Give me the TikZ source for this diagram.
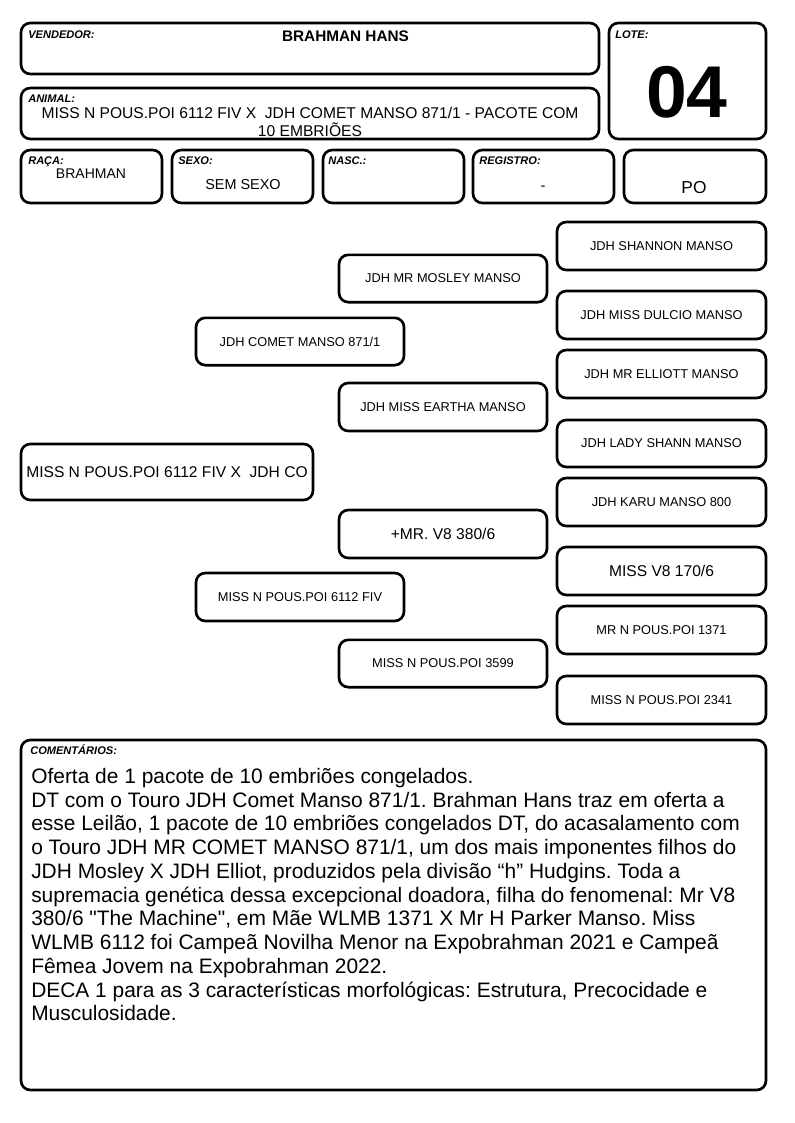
\documentclass[tikz,border=0pt]{standalone}
\usepackage{fontspec}
\setmainfont{Liberation Sans}[Ligatures=TeXOff]
\begin{document}
\frenchspacing
\begin{tikzpicture}[x=0.75pt,y=-0.75pt,
    box/.style={draw, line width=2pt, rounded corners=7pt, inner sep=0pt},
    tag/.style={anchor=base west, inner sep=0pt, font=\fontsize{8.3}{9.5}\selectfont\bfseries\itshape},
    small/.style={font=\fontsize{9.6}{11}\selectfont},
    big/.style={font=\fontsize{11.7}{13.5}\selectfont},
    outer/.style={box, small, minimum width=156.75pt, minimum height=36pt},
    mid/.style={box, small, minimum width=156pt, minimum height=35.5pt}]
    \useasboundingbox (0,0) rectangle (794,1123);
    % cabecalho
    \node[box, minimum width=433.5pt, minimum height=38.25pt] (vend) at (310,48.5) {};
    \node[box, minimum width=117.75pt, minimum height=87pt] (lote) at (687.5,81) {};
    \node[box, minimum width=433.5pt, minimum height=38.25pt] (animal) at (310,113.5) {};
    \node[box, minimum width=105.75pt, minimum height=39.75pt] (raca) at (91.5,176.5) {};
    \node[box, minimum width=105.75pt, minimum height=39.75pt] (sexo) at (242.5,176.5) {};
    \node[box, minimum width=105.75pt, minimum height=39.75pt] (nasc) at (393.5,176.5) {};
    \node[box, minimum width=105.75pt, minimum height=39.75pt] (registro) at (543.5,176.5) {};
    \node[box, minimum width=106.5pt, minimum height=39.75pt] (po) at (695,176.5) {};
    \node[tag] (tvend) at (28,38.5) {VENDEDOR:};
    \node[tag] (tlote) at (615,38.5) {LOTE:};
    \node[tag] (tanimal) at (28,102.5) {ANIMAL:};
    \node[tag] (traca) at (28,164.5) {RAÇA:};
    \node[tag] (tsexo) at (178,164.5) {SEXO:};
    \node[tag] (tnasc) at (328,164.5) {NASC.:};
    \node[tag] (treg) at (479,164.5) {REGISTRO:};
    \node[anchor=base, inner sep=0pt, font=\fontsize{11.5}{13}\selectfont\bfseries] (vendedor) at (345.5,42) {BRAHMAN HANS};
    \node[big, align=center, inner sep=0pt] (nome) at (310,122) {MISS N POUS.POI 6112 FIV X~~JDH COMET MANSO 871/1 - PACOTE COM\\10 EMBRIÕES};
    \node[inner sep=0pt, font=\fontsize{10.5}{12}\selectfont] (raa) at (91,174) {BRAHMAN};
    \node[inner sep=0pt, font=\fontsize{10.8}{12}\selectfont] (sex) at (243,185) {SEM SEXO};
    \node[inner sep=0pt, font=\fontsize{11}{12}\selectfont] (reg) at (543,188) {-};
    \node[inner sep=0pt, font=\fontsize{13}{14}\selectfont] (cat) at (694,188) {PO};
    \node[inner sep=0pt, font=\fontsize{55}{60}\selectfont\bfseries] (num) at (687,92) {04};
    % genealogia
    \node[box, big, minimum width=219pt, minimum height=42pt] (prod) at (167,472) {MISS N POUS.POI 6112 FIV X~~JDH CO};
    \node[mid] (pai) at (300,341.5) {JDH COMET MANSO 871/1};
    \node[mid, minimum height=36pt] (mae) at (300,597) {MISS N POUS.POI 6112 FIV};
    \node[mid] (avpp) at (443,278.5) {JDH MR MOSLEY MANSO};
    \node[mid, minimum height=36pt] (avmp) at (443,407) {JDH MISS EARTHA MANSO};
    \node[mid, big, minimum height=36pt] (avpm) at (443,534) {+MR. V8 380/6};
    \node[mid] (avmm) at (443,663.5) {MISS N POUS.POI 3599};
    \node[outer] (bppp) at (661.5,246) {JDH SHANNON MANSO};
    \node[outer] (bmpp) at (661.5,315) {JDH MISS DULCIO MANSO};
    \node[outer] (bpmp) at (661.5,374) {JDH MR ELLIOTT MANSO};
    \node[outer, minimum height=35.25pt] (bmmp) at (661.5,443.5) {JDH LADY SHANN MANSO};
    \node[outer] (bppm) at (661.5,502) {JDH KARU MANSO 800};
    \node[outer, big] (bmpm) at (661.5,571) {MISS V8 170/6};
    \node[outer] (bpmm) at (661.5,630) {MR N POUS.POI 1371};
    \node[outer] (bmmm) at (661.5,700) {MISS N POUS.POI 2341};
    % comentarios
    \node[box, minimum width=558.75pt, minimum height=262.5pt] (coment) at (393.5,915) {};
    \node[tag] (tcoment) at (30,754) {COMENTÁRIOS:};
    \node[anchor=north west, inner sep=0pt, align=left, font=\fontsize{15.7}{17.8}\selectfont] (texto) at (31,768) {Oferta de 1 pacote de 10 embriões congelados.\\
        DT com o Touro JDH Comet Manso 871/1. Brahman Hans traz em oferta a\\
        esse Leilão, 1 pacote de 10 embriões congelados DT, do acasalamento com\\
        o Touro JDH MR COMET MANSO 871/1, um dos mais imponentes filhos do\\
        JDH Mosley X JDH Elliot, produzidos pela divisão “h” Hudgins. Toda a\\
        supremacia genética dessa excepcional doadora, filha do fenomenal: Mr V8\\
        380/6 "The Machine", em Mãe WLMB 1371 X Mr H Parker Manso. Miss\\
        WLMB 6112 foi Campeã Novilha Menor na Expobrahman 2021 e Campeã\\
        Fêmea Jovem na Expobrahman 2022.\\
        DECA 1 para as 3 características morfológicas: Estrutura, Precocidade e\\
        Musculosidade.};
\end{tikzpicture}
\end{document}
